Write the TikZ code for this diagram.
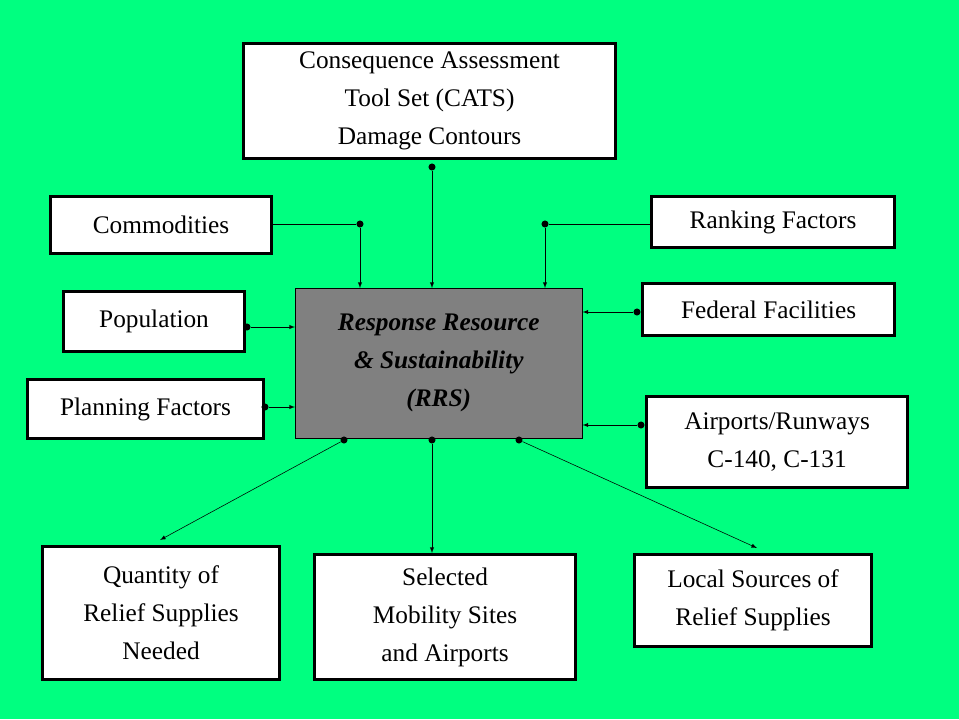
\documentclass[tikz,border=0pt]{standalone}
\usepackage{fontspec}
\setmainfont{Liberation Serif}
\usetikzlibrary{calc, positioning, arrows}
\definecolor{bggreen}{RGB}{0,255,128}
\definecolor{rrsgray}{RGB}{128,128,128}

\begin{document}
\begin{tikzpicture}[x=0.025cm, y=-0.025cm,
  box/.style={draw, line width=2.2pt, fill=white, anchor=north west, inner sep=0pt, align=center, font=\fontsize{18}{27}\selectfont},
  dot/.style={fill=black, circle, inner sep=0pt, minimum size=5pt},
  con/.style={-latex, thin}]
  \fill[bggreen] (0,0) rectangle (959,719);
  \useasboundingbox (0,0) rectangle (959,719);

  \node[box, minimum width=372*0.025cm, minimum height=115*0.025cm] (cats) at (242,42) {Consequence Assessment\\Tool Set (CATS)\\Damage Contours};
  \node[box, minimum width=221*0.025cm, minimum height=57*0.025cm] (comm) at (49,195) {Commodities};
  \node[box, minimum width=243*0.025cm, minimum height=51*0.025cm] (rank) at (650,195) {Ranking Factors};
  \node[box, minimum width=181*0.025cm, minimum height=60*0.025cm] (pop) at (62,290) {Population};
  \node[box, minimum width=252*0.025cm, minimum height=52*0.025cm] (fed) at (641,282) {Federal Facilities};
  \node[box, minimum width=236*0.025cm, minimum height=59*0.025cm] (plan) at (26,378) {Planning Factors};
  \node[box, minimum width=261*0.025cm, minimum height=91*0.025cm] (air) at (645,395) {Airports/Runways\\C-140, C-131};
  \node[box, minimum width=237*0.025cm, minimum height=133*0.025cm] (qty) at (41,545) {Quantity of\\Relief Supplies\\Needed};
  \node[box, minimum width=261*0.025cm, minimum height=125*0.025cm] (sel) at (313,553) {Selected\\Mobility Sites\\and Airports};
  \node[box, minimum width=237*0.025cm, minimum height=92*0.025cm] (loc) at (633,553) {Local Sources of\\Relief Supplies};
  \node[draw, thin, fill=rrsgray, anchor=north west, inner sep=0pt, align=center,
        minimum width=287*0.025cm, minimum height=150*0.025cm,
        font=\fontsize{18}{27}\selectfont\bfseries\itshape] (rrs) at (295,288)
        {Response Resource\\\& Sustainability\\(RRS)};

  % inputs
  \node[dot] (dcomm) at (360,224) {};
  \node[dot] (dcats) at (432,167) {};
  \node[dot] (drank) at (545,224) {};
  \node[dot] (dpop) at (247,327) {};
  \node[dot] (dplan) at (265,407) {};
  \node[dot] (dfed) at (637,312) {};
  \node[dot] (dair) at (641,425) {};
  \draw (comm.east |- dcomm) -- (dcomm);
  \draw (drank) -- (rank.west |- drank);
  \draw[con] (dcomm) -- (dcomm |- rrs.north);
  \draw[con] (dcats) -- (dcats |- rrs.north);
  \draw[con] (drank) -- (drank |- rrs.north);
  \draw[con] (dpop) -- (rrs.west |- dpop);
  \draw[con] (dplan) -- (rrs.west |- dplan);
  \draw[con] (dfed) -- (rrs.east |- dfed);
  \draw[con] (dair) -- (rrs.east |- dair);

  % outputs
  \node[dot] (dq) at (344,440) {};
  \node[dot] (ds) at (432,440) {};
  \node[dot] (dl) at (519,440) {};
  \coordinate (eq) at (160,540);
  \coordinate (el) at (757,548);
  \draw[con] (dq) -- (eq);
  \draw[con] (ds) -- (sel.north -| ds);
  \draw[con] (dl) -- (el);
\end{tikzpicture}
\end{document}
